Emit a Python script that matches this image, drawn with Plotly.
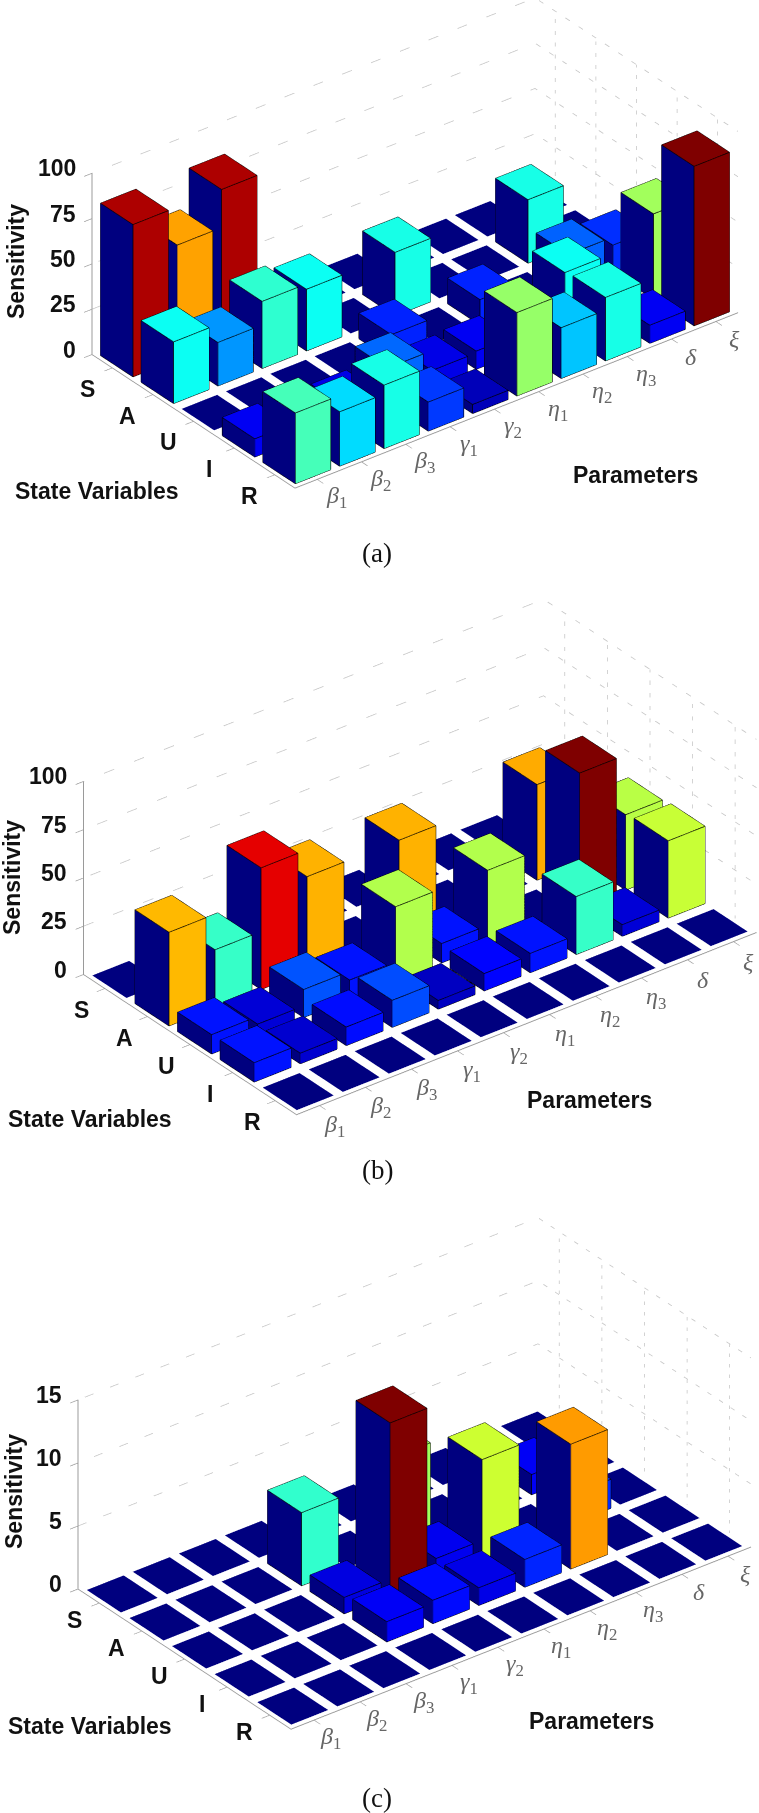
import numpy as np
import plotly.graph_objects as go

params = ["<i>β</i><sub>1</sub>", "<i>β</i><sub>2</sub>", "<i>β</i><sub>3</sub>", "<i>γ</i><sub>1</sub>", "<i>γ</i><sub>2</sub>",
          "<i>η</i><sub>1</sub>", "<i>η</i><sub>2</sub>", "<i>η</i><sub>3</sub>", "<i>δ</i>", "<i>ξ</i>"]
states = ["S", "A", "U", "I", "R"]

# rows S, A, U, I, R ; columns as in params
values_a_S = [84, 63, 84, 0, 0, 0, 0, 0, 0, 0]
values_a_A = [34, 24, 37, 34, 0, 35, 0, 0, 35, 0]
values_a_U = [0, 0, 0, 0, 14, 0, 14, 0, 19.5, 15]
values_a_I = [10, 0, 9, 20, 9, 10, 0, 34, 0, 47]
values_a_R = [39, 30, 35, 16, 5, 46, 28, 35, 10, 88]

values_b_S = [0, 0, 0, 0, 0, 0, 0, 0, 0, 0]
values_b_A = [48.5, 30, 63, 49, 0, 49, 0, 0, 49.5, 0]
values_b_U = [10, 6, 14.5, 10, 38.5, 10, 38.5, 0, 70, 39]
values_b_I = [10, 5.5, 9.6, 14, 4.5, 9, 10, 30, 6, 40]
values_b_R = [0, 0, 0, 0, 0, 0, 0, 0, 0, 0]

values_c_S = [0, 0, 0, 0, 0, 0, 0, 0, 0, 0]
values_c_A = [0, 0, 0, 5.8, 0, 7.3, 0, 0, 1.6, 0]
values_c_U = [0, 0, 0, 1.3, 13.7, 1.5, 7.9, 0, 2.3, 0]
values_c_I = [0, 0, 0, 1.6, 1.85, 1.4, 2.2, 9.9, 0, 0]
values_c_R = [0, 0, 0, 0, 0, 0, 0, 0, 0, 0]

ticks_ab = [0, 25, 50, 75, 100]
ticks_c = [0, 5, 10, 15]

W, H = 759, 1813
AZ, EL = np.radians(37.8), np.radians(30.7)
DIR = np.array([-np.sin(AZ) * np.cos(EL), -np.cos(AZ) * np.cos(EL), np.sin(EL)])
RIGHT = np.array([np.cos(AZ), -np.sin(AZ), 0.0])
UP = np.cross(RIGHT, -DIR)


def jet(v):
    v = min(max(v, 0.0), 1.0)
    r = np.clip(min(4 * v - 1.5, -4 * v + 4.5), 0, 1)
    g = np.clip(min(4 * v - 0.5, -4 * v + 3.5), 0, 1)
    b = np.clip(min(4 * v + 0.5, -4 * v + 2.5), 0, 1)
    return "rgb(%d,%d,%d)" % (r * 255, g * 255, b * 255)


def panel(idx, rows, ticks, front, avec, bvec, zpx, dom, labels):
    n = str(idx) if idx > 1 else ""
    scene = "scene" + n
    zmax = ticks[-1]
    vmax = max(max(r) for r in rows)
    xs, ys, zs, I, J, K, fc = [], [], [], [], [], [], []
    ex, ey, ez = [], [], []
    navy = jet(0)
    for si, row in enumerate(rows):
        r = 4 - si
        for p, h in enumerate(row):
            x0, x1, y0, y1 = p + 0.1, p + 0.9, r + 0.1, r + 0.9
            col = jet(h / vmax)
            b = len(xs)
            xs += [x0, x1, x1, x0, x0, x1, x1, x0]
            ys += [y0, y0, y1, y1, y0, y0, y1, y1]
            zs += [0, 0, 0, 0, h, h, h, h]
            quads = [((4, 5, 6), (4, 6, 7), col)]
            if h > 0:
                quads += [((0, 1, 5), (0, 5, 4), col), ((0, 3, 7), (0, 7, 4), navy)]
            for t1, t2, c in quads:
                for t in (t1, t2):
                    I.append(b + t[0]); J.append(b + t[1]); K.append(b + t[2]); fc.append(c)
            if h > 0:
                for a, c2 in [(0, 1), (0, 3), (4, 5), (5, 6), (6, 7), (7, 4), (0, 4), (1, 5), (3, 7)]:
                    ex += [xs[b + a], xs[b + c2], None]
                    ey += [ys[b + a], ys[b + c2], None]
                    ez += [zs[b + a], zs[b + c2], None]
    traces = [go.Mesh3d(x=xs, y=ys, z=zs, i=I, j=J, k=K, facecolor=fc, flatshading=True,
                        lighting=dict(ambient=1, diffuse=0, specular=0, fresnel=0, roughness=1),
                        hoverinfo="skip", scene=scene, showscale=False),
              go.Scatter3d(x=ex, y=ey, z=ez, mode="lines", line=dict(color="black", width=1.5),
                           hoverinfo="skip", scene=scene, showlegend=False)]
    gx, gy, gz = [], [], []
    for t in ticks[1:]:
        gx += [0, 10, 10, None]; gy += [5, 5, 0, None]; gz += [t, t, t, None]
    for r in range(5):
        gx += [10, 10, None]; gy += [r + 0.5, r + 0.5, None]; gz += [0, zmax, None]
    traces.append(go.Scatter3d(x=gx, y=gy, z=gz, mode="lines",
                               line=dict(color="#c4c4c4", width=1.5, dash="dot"),
                               hoverinfo="skip", scene=scene, showlegend=False))

    # camera from pixel targets: an orthographic scene draws dh/2 px per scene unit
    dh = dom[1] - dom[0]
    s = dh / 2
    asp = dict(x=avec[0] / np.cos(AZ) / s, y=-bvec[0] / np.sin(AZ) / s, z=0.985 * zpx / np.cos(EL) / s)
    centre_px = (front[0] + (avec[0] + bvec[0]) / 2, front[1] + (avec[1] + bvec[1] - zpx) / 2)
    tx = centre_px[0] - W / 2
    ty = (dom[0] + dom[1]) / 2 - centre_px[1]
    C = -(tx * RIGHT + ty * UP) / s
    E = C + DIR * 3
    axcommon = dict(showgrid=False, zeroline=False, showbackground=False, showspikes=False, title=dict(text=""),
                    showline=True, linecolor="#9a9a9a", linewidth=2, ticks="outside", ticklen=10,
                    tickcolor="#9a9a9a", tickwidth=1.5, showticklabels=False, tickmode="array")
    layout = dict(
        domain=dict(x=[0, 1], y=[1 - dom[1] / H, 1 - dom[0] / H]),
        bgcolor="rgba(0,0,0,0)",
        aspectmode="manual", aspectratio=asp,
        camera=dict(projection=dict(type="orthographic"), up=dict(x=0, y=0, z=1),
                    center=dict(x=C[0], y=C[1], z=C[2]), eye=dict(x=E[0], y=E[1], z=E[2])),
        xaxis=dict(range=[0, 10], tickvals=[p + 0.5 for p in range(10)], **axcommon),
        yaxis=dict(range=[0, 5], tickvals=[r + 0.5 for r in range(5)], **axcommon),
        zaxis=dict(range=[0, zmax], tickvals=ticks, **axcommon),
    )
    bold = dict(family="Liberation Sans", size=23, color="#111111")
    math = dict(family="Liberation Serif", size=24, color="#666666")
    ann = []
    for t in ticks:
        ann.append(dict(x=0, y=5, z=t, text="<b>%d</b>" % t, showarrow=False, font=bold, xanchor="right",
                        xshift=-14, yshift=5))
    for si, st in enumerate(states):
        ann.append(dict(x=0, y=4 - si + 0.5, z=0, text="<b>%s</b>" % st, showarrow=False, font=bold,
                        xshift=labels["state"][0], yshift=-labels["state"][1]))
    for p, st in enumerate(params):
        ann.append(dict(x=p + 0.5, y=0, z=0, text=st, showarrow=False, font=math,
                        xshift=labels["param"][0], yshift=-labels["param"][1]))
    layout["annotations"] = ann
    return traces, scene, layout


def paper(px, py, text, font, **kw):
    return dict(xref="paper", yref="paper", x=px / W, y=1 - py / H, text=text, font=font, showarrow=False,
                xanchor="center", yanchor="middle", **kw)


fig = go.Figure()
cfg = [
    (1, [values_a_S, values_a_A, values_a_U, values_a_I, values_a_R], ticks_ab, (295, 488), (443, -170), (-203, -136), 184,
     (0, 840), dict(state=(-25, 21), param=(19, 18))),
    (2, [values_b_S, values_b_A, values_b_U, values_b_I, values_b_R], ticks_ab, (296.5, 1114), (460, -177), (-213, -141), 196,
     (480, 1320), dict(state=(-23, 21), param=(15, 20))),
    (3, [values_c_S, values_c_A, values_c_U, values_c_I, values_c_R], ticks_c, (291, 1725), (460, -174), (-213, -137), 192,
     (973, 1813), dict(state=(-25, 17), param=(17, 18))),
]
lay = {}
for c in cfg:
    tr, sc, l = panel(*c)
    fig.add_traces(tr)
    lay[sc] = l

tb = dict(family="Liberation Sans", size=23, color="#111111")
cap = dict(family="Liberation Serif", size=27, color="#111111")
ann = [
    paper(16, 262, "<b>Sensitivity</b>", tb, textangle=-90),
    paper(97, 491, "<b>State Variables</b>", tb),
    paper(635, 475, "<b>Parameters</b>", tb),
    paper(376.5, 553, "(a)", cap),
    paper(12, 878, "<b>Sensitivity</b>", tb, textangle=-90),
    paper(89.5, 1119, "<b>State Variables</b>", tb),
    paper(589, 1100, "<b>Parameters</b>", tb),
    paper(377.5, 1170, "(b)", cap),
    paper(14, 1492, "<b>Sensitivity</b>", tb, textangle=-90),
    paper(89.5, 1725.5, "<b>State Variables</b>", tb),
    paper(591.5, 1721, "<b>Parameters</b>", tb),
    paper(376.5, 1798, "(c)", cap),
]
fig.update_layout(width=W, height=H, margin=dict(l=0, r=0, t=0, b=0), paper_bgcolor="white",
                  showlegend=False, annotations=ann, **lay)
fig.write_html("out.html", config={"displayModeBar": False}, post_script="document.body.style.margin='0';")
